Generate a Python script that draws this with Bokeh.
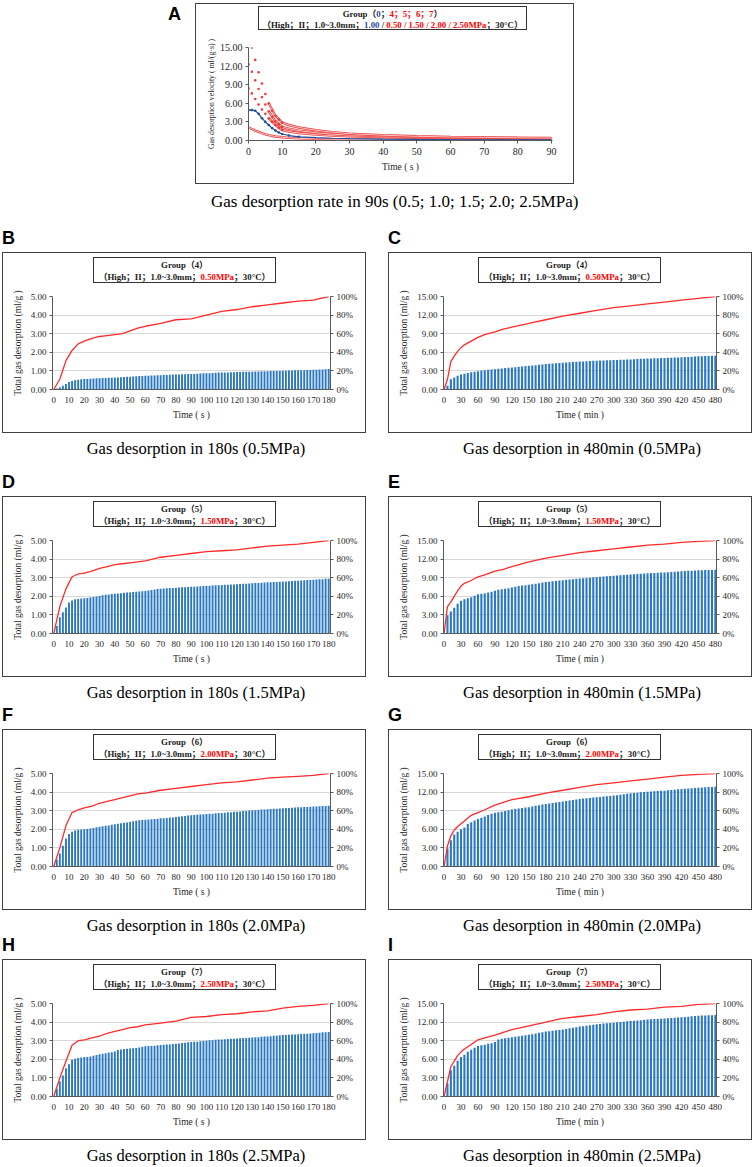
from bokeh.plotting import figure
from bokeh.models import Range1d, LinearAxis, FixedTicker, PrintfTickFormatter, Div, Spacer
from bokeh.layouts import column, row
from bokeh.embed import file_html
from bokeh.resources import INLINE

# ---------------- data ----------------
T180 = list(range(2, 181, 2))      # bar times, s
T480 = list(range(6, 481, 6))      # bar times, min
LX180 = [0, 4, 8, 12, 16, 20, 25, 30, 35, 40, 45, 50, 55, 60, 70, 80, 90, 100, 110, 120, 130, 140, 150, 160, 170, 180]
LX480 = [0, 6, 12, 18, 24, 30, 36, 48, 60, 72, 90, 105, 120, 150, 180, 210, 240, 270, 300, 330, 360, 390, 420, 450, 480]

BARS_B = [0.05, 0.12, 0.20, 0.30, 0.40, 0.46, 0.50, 0.53, 0.55, 0.56,
          0.57, 0.58, 0.59, 0.60, 0.61, 0.62, 0.62, 0.63, 0.63, 0.64,
          0.65, 0.66, 0.67, 0.68, 0.69, 0.70, 0.71, 0.72, 0.73, 0.74,
          0.74, 0.75, 0.75, 0.76, 0.77, 0.78, 0.78, 0.79, 0.80, 0.81,
          0.81, 0.82, 0.82, 0.83, 0.83, 0.84, 0.85, 0.86, 0.87, 0.87,
          0.88, 0.89, 0.90, 0.91, 0.91, 0.92, 0.92, 0.93, 0.93, 0.94,
          0.94, 0.95, 0.95, 0.96, 0.96, 0.97, 0.97, 0.98, 0.98, 0.98,
          0.99, 0.99, 1.00, 1.00, 1.01, 1.01, 1.02, 1.02, 1.03, 1.03,
          1.04, 1.04, 1.05, 1.05, 1.06, 1.06, 1.07, 1.08, 1.09, 1.10]
LINE_B = [0, 11, 31, 42, 49, 52, 55, 57, 58, 59, 60, 63, 66, 68, 71, 75, 76, 80, 84, 86, 89, 91, 93, 95, 96, 100]

BARS_D = [0.40, 0.88, 1.14, 1.40, 1.66, 1.77, 1.84, 1.86, 1.88, 1.89,
          1.91, 1.93, 1.96, 1.99, 2.02, 2.05, 2.08, 2.10, 2.12, 2.14,
          2.15, 2.17, 2.19, 2.20, 2.21, 2.23, 2.24, 2.26, 2.27, 2.29,
          2.31, 2.34, 2.37, 2.39, 2.41, 2.42, 2.43, 2.44, 2.45, 2.46,
          2.47, 2.48, 2.49, 2.50, 2.51, 2.52, 2.53, 2.54, 2.55, 2.56,
          2.57, 2.58, 2.59, 2.60, 2.61, 2.62, 2.62, 2.63, 2.64, 2.65,
          2.66, 2.67, 2.68, 2.69, 2.70, 2.71, 2.72, 2.73, 2.74, 2.75,
          2.76, 2.77, 2.77, 2.78, 2.79, 2.80, 2.81, 2.82, 2.83, 2.84,
          2.85, 2.86, 2.87, 2.88, 2.89, 2.90, 2.91, 2.92, 2.94, 2.95]
LINE_D = [0, 29, 48, 61, 64, 65, 67, 70, 72, 74, 75, 76, 77, 78, 82, 84, 86, 88, 89, 90, 92, 94, 95, 96, 98, 100]

BARS_F = [0.38, 0.70, 1.12, 1.50, 1.75, 1.87, 1.94, 1.97, 1.99, 2.00,
          2.02, 2.04, 2.07, 2.11, 2.14, 2.17, 2.19, 2.21, 2.24, 2.27,
          2.30, 2.32, 2.35, 2.37, 2.40, 2.43, 2.46, 2.48, 2.50, 2.52,
          2.53, 2.54, 2.56, 2.57, 2.59, 2.60, 2.61, 2.63, 2.64, 2.66,
          2.68, 2.70, 2.72, 2.74, 2.76, 2.77, 2.78, 2.80, 2.81, 2.82,
          2.83, 2.84, 2.86, 2.87, 2.88, 2.89, 2.91, 2.92, 2.94, 2.95,
          2.96, 2.98, 2.99, 3.01, 3.02, 3.03, 3.04, 3.06, 3.07, 3.08,
          3.09, 3.10, 3.11, 3.12, 3.13, 3.14, 3.15, 3.16, 3.17, 3.18,
          3.19, 3.20, 3.20, 3.21, 3.22, 3.23, 3.24, 3.25, 3.25, 3.26]
LINE_F = [0, 20, 44, 58, 61, 63, 65, 68, 70, 72, 74, 76, 78, 79, 82, 84, 86, 88, 90, 91, 93, 95, 96, 97, 98, 100]

BARS_H = [0.42, 0.80, 1.13, 1.52, 1.74, 1.97, 2.03, 2.07, 2.10, 2.12,
          2.13, 2.15, 2.19, 2.23, 2.27, 2.30, 2.33, 2.36, 2.38, 2.42,
          2.50, 2.53, 2.55, 2.57, 2.58, 2.59, 2.61, 2.64, 2.68, 2.70,
          2.71, 2.72, 2.73, 2.75, 2.77, 2.78, 2.79, 2.80, 2.82, 2.83,
          2.85, 2.87, 2.89, 2.91, 2.93, 2.94, 2.95, 2.97, 2.99, 3.00,
          3.02, 3.03, 3.05, 3.06, 3.07, 3.08, 3.09, 3.10, 3.11, 3.12,
          3.13, 3.14, 3.15, 3.16, 3.17, 3.18, 3.19, 3.21, 3.22, 3.23,
          3.24, 3.26, 3.27, 3.29, 3.30, 3.31, 3.32, 3.33, 3.34, 3.35,
          3.36, 3.37, 3.38, 3.39, 3.40, 3.42, 3.43, 3.45, 3.46, 3.47]
LINE_H = [0, 20, 38, 55, 60, 61, 63, 65, 68, 70, 72, 74, 75, 77, 79, 81, 85, 86, 88, 89, 91, 92, 95, 97, 98, 100]

BARS_C = [0.60, 1.65, 1.95, 2.20, 2.40, 2.55, 2.65, 2.78, 2.88, 2.95,
          3.05, 3.12, 3.18, 3.22, 3.28, 3.34, 3.40, 3.45, 3.50, 3.55,
          3.60, 3.65, 3.70, 3.78, 3.84, 3.88, 3.93, 3.98, 4.04, 4.10,
          4.14, 4.18, 4.22, 4.26, 4.30, 4.34, 4.38, 4.42, 4.46, 4.50,
          4.53, 4.56, 4.59, 4.62, 4.65, 4.67, 4.69, 4.71, 4.73, 4.75,
          4.77, 4.79, 4.81, 4.83, 4.85, 4.88, 4.91, 4.94, 4.97, 5.00,
          5.02, 5.04, 5.06, 5.08, 5.10, 5.12, 5.14, 5.16, 5.18, 5.20,
          5.23, 5.26, 5.29, 5.32, 5.35, 5.37, 5.39, 5.41, 5.43, 5.45]
LINE_C = [0, 11, 30, 36, 41, 45, 48, 52, 56, 59, 62, 65, 67, 71, 75, 79, 82, 85, 88, 90, 92, 94, 96, 98, 100]

BARS_E = [2.93, 3.56, 4.15, 4.79, 5.27, 5.53, 5.69, 5.85, 6.10, 6.33,
          6.42, 6.50, 6.60, 6.75, 6.90, 7.05, 7.15, 7.22, 7.30, 7.40,
          7.55, 7.65, 7.75, 7.80, 7.87, 7.95, 8.03, 8.12, 8.21, 8.30,
          8.36, 8.42, 8.48, 8.54, 8.60, 8.66, 8.71, 8.77, 8.83, 8.88,
          8.92, 8.96, 9.01, 9.06, 9.10, 9.14, 9.18, 9.22, 9.26, 9.30,
          9.34, 9.39, 9.43, 9.48, 9.52, 9.56, 9.60, 9.64, 9.69, 9.73,
          9.75, 9.77, 9.79, 9.82, 9.84, 9.88, 9.92, 9.97, 10.01, 10.05,
          10.08, 10.11, 10.14, 10.17, 10.20, 10.22, 10.23, 10.24, 10.26, 10.27]
LINE_E = [0, 29, 34, 40, 46, 51, 54, 57, 61, 63, 67, 69, 72, 77, 81, 84, 87, 89, 91, 93, 95, 96, 98, 99, 100]

BARS_G = [2.90, 4.25, 5.15, 5.60, 6.00, 6.28, 6.85, 7.15, 7.40, 7.65,
          7.85, 8.05, 8.30, 8.50, 8.65, 8.75, 8.85, 8.95, 9.08, 9.20,
          9.27, 9.34, 9.42, 9.50, 9.57, 9.68, 9.78, 9.88, 9.98, 10.08,
          10.16, 10.24, 10.32, 10.40, 10.48, 10.56, 10.65, 10.73, 10.82, 10.90,
          10.95, 11.01, 11.06, 11.12, 11.17, 11.22, 11.28, 11.33, 11.39, 11.44,
          11.51, 11.58, 11.66, 11.73, 11.80, 11.85, 11.91, 11.96, 12.02, 12.07,
          12.10, 12.13, 12.17, 12.20, 12.23, 12.28, 12.34, 12.39, 12.45, 12.50,
          12.54, 12.58, 12.63, 12.67, 12.71, 12.74, 12.77, 12.81, 12.84, 12.87]
LINE_G = [0, 22, 33, 39, 43, 46, 49, 55, 58, 61, 66, 69, 72, 75, 79, 82, 85, 88, 90, 92, 94, 96, 98, 99, 100]

BARS_I = [2.10, 4.25, 4.95, 5.75, 6.38, 6.75, 7.20, 7.55, 7.87, 8.14,
          8.25, 8.35, 8.50, 8.60, 8.78, 9.20, 9.30, 9.38, 9.48, 9.57,
          9.65, 9.73, 9.80, 9.88, 9.95, 10.06, 10.16, 10.27, 10.38, 10.48,
          10.54, 10.61, 10.67, 10.74, 10.80, 10.90, 10.99, 11.09, 11.18, 11.28,
          11.35, 11.43, 11.50, 11.58, 11.65, 11.70, 11.76, 11.81, 11.86, 11.91,
          11.96, 12.02, 12.07, 12.13, 12.18, 12.22, 12.27, 12.31, 12.36, 12.40,
          12.44, 12.48, 12.52, 12.56, 12.60, 12.63, 12.67, 12.70, 12.74, 12.77,
          12.82, 12.87, 12.93, 12.98, 13.03, 13.05, 13.07, 13.09, 13.12, 13.14]
LINE_I = [0, 16, 32, 38, 44, 48, 51, 56, 61, 63, 66, 69, 72, 76, 80, 84, 86, 88, 91, 93, 94, 96, 97, 99, 100]

# Panel A: desorption velocity, ml/(g*s)
A_T25 = [1, 2, 3, 4, 5, 6, 7, 8, 9, 10]
A_V25 = [15.0, 13.0, 11.0, 9.2, 7.5, 6.0, 4.8, 4.0, 3.4, 2.9]
A_T20 = [0, 1, 2, 3, 4, 5, 6, 7, 8, 9, 10]
A_V20 = [12.3, 11.1, 9.7, 8.3, 7.0, 5.8, 4.7, 3.8, 3.1, 2.6, 2.2]
A_T15 = [0, 1, 2, 3, 4, 5, 6, 7, 8, 9, 10]
A_V15 = [8.4, 7.6, 6.7, 5.8, 5.0, 4.3, 3.6, 3.0, 2.5, 2.0, 1.7]
A_LT = [6, 8, 10, 12, 15, 20, 25, 30, 40, 50, 60, 70, 80, 90]
A_L25 = [6.0, 4.0, 2.9, 2.5, 2.1, 1.65, 1.35, 1.1, 0.85, 0.68, 0.57, 0.5, 0.44, 0.4]
A_L20 = [4.7, 3.1, 2.2, 1.9, 1.6, 1.25, 1.02, 0.88, 0.7, 0.58, 0.5, 0.44, 0.4, 0.36]
A_L15 = [3.6, 2.5, 1.7, 1.45, 1.2, 0.95, 0.8, 0.68, 0.55, 0.47, 0.41, 0.37, 0.34, 0.31]
A_T10 = [0, 1, 2, 3, 4, 5, 6, 7, 8, 9, 10, 12, 15, 20, 25, 30, 40, 50, 60, 70, 80, 90]
A_V10 = [4.9, 4.9, 4.8, 4.3, 3.6, 3.0, 2.5, 2.0, 1.6, 1.3, 1.05, 0.8, 0.6, 0.45, 0.36, 0.3, 0.22, 0.17, 0.14, 0.12, 0.1, 0.09]
A_T05 = [0, 1, 2, 3, 4, 5, 6, 8, 10, 12, 15, 20, 25, 30, 40, 50, 60, 70, 80, 90]
A_V05 = [2.1, 1.85, 1.6, 1.38, 1.18, 1.0, 0.86, 0.65, 0.52, 0.43, 0.34, 0.26, 0.21, 0.18, 0.14, 0.12, 0.1, 0.09, 0.08, 0.08]

# ---------------- styling ----------------
FS = "'Liberation Serif','Noto Sans CJK SC',serif"
SERIF = "Liberation Serif"
RED_T = "#ff0000"
BLUE_T = "#1f4e99"
BAR = "#2b78c2"
LRED = "#ff2a2a"
ARED = "#ee3b3b"
ABLUE = "#1f4e9a"
AX = "#595959"


def style_axis(ax, tsize="9px", lsize="9.5px"):
    ax.major_label_text_font = SERIF
    ax.major_label_text_font_size = tsize
    ax.major_label_text_color = "#262626"
    ax.axis_label_text_font = SERIF
    ax.axis_label_text_font_size = lsize
    ax.axis_label_text_font_style = "normal"
    ax.axis_label_text_color = "#262626"
    ax.axis_line_color = AX
    ax.major_tick_line_color = AX
    ax.minor_tick_line_color = None
    ax.major_tick_in = 0


def legend_div(inner_w, left, top, bw, bh, lh, l1, l2, h=36):
    html = (f'<div style="padding:{top}px 0 0 {left}px;margin:0;">'
            f'<div style="box-sizing:border-box;width:{bw}px;height:{bh}px;border:1px solid #333;'
            f'padding-top:2px;font-family:{FS};font-weight:bold;font-size:8.8px;line-height:{lh}px;'
            f'text-align:center;white-space:nowrap;color:#1a1a1a;">{l1}<br>{l2}</div></div>')
    return Div(text=html, width=inner_w, height=h, margin=0)


def letter_div(ch, w, h, pad_top):
    html = (f'<div style="font-family:\'Liberation Sans\',Arial,sans-serif;font-weight:bold;'
            f'font-size:18px;line-height:18px;padding-top:{pad_top}px;color:#000;">{ch}</div>')
    return Div(text=html, width=w, height=h, margin=0)


def caption_div(txt, w, h, pad_top, pad_left, fs):
    html = (f'<div style="box-sizing:border-box;width:{w}px;padding-top:{pad_top}px;padding-left:{pad_left}px;'
            f'text-align:center;font-family:{FS};font-size:{fs}px;line-height:25px;white-space:nowrap;color:#000;">{txt}</div>')
    return Div(text=html, width=w, height=h, margin=0)


def chart(kind, bars, pct):
    if kind == "s":
        xs, lx, xr, ticks, bw, xl, ymax, yt, fl = (T180, LX180, (-0.8, 181.2), list(range(0, 181, 10)), 1.25,
                                                   "Time ( s )", 5, [0, 1, 2, 3, 4, 5], 49)
    else:
        xs, lx, xr, ticks, bw, xl, ymax, yt, fl = (T480, LX480, (-1, 482), list(range(0, 481, 30)), 3.7,
                                                   "Time ( min )", 15, [0, 3, 6, 9, 12, 15], 54)
    p = figure(width=362, height=143, x_range=Range1d(*xr), y_range=Range1d(0, ymax),
               output_backend="svg", toolbar_location=None,
               min_border_left=fl, min_border_right=35, min_border_top=7, min_border_bottom=43)
    p.extra_y_ranges = {"pct": Range1d(0, 100)}
    p.outline_line_color = None
    p.background_fill_color = "white"
    p.border_fill_color = "white"
    p.xgrid.visible = False
    p.ygrid.ticker = FixedTicker(ticks=yt)
    p.ygrid.grid_line_color = "#d9d9d9"
    p.vbar(x=xs, top=bars, width=bw, bottom=0, fill_color=BAR, line_color=None)
    p.line(lx, pct, y_range_name="pct", line_color=LRED, line_width=1.3)

    ya = p.yaxis[0]
    style_axis(ya)
    ya.ticker = FixedTicker(ticks=yt)
    ya.formatter = PrintfTickFormatter(format="%.2f")
    ya.axis_label = "Total gas desorption (ml/g )"
    ya.major_tick_out = 3
    ya.major_label_standoff = 3
    ya.axis_label_standoff = 5

    xa = p.xaxis[0]
    style_axis(xa)
    xa.ticker = FixedTicker(ticks=ticks)
    xa.formatter = PrintfTickFormatter(format="%d")
    xa.axis_label = xl
    xa.major_tick_out = 0
    xa.major_label_standoff = 7
    xa.axis_label_standoff = 4

    ra = LinearAxis(y_range_name="pct", ticker=FixedTicker(ticks=[0, 20, 40, 60, 80, 100]),
                    formatter=PrintfTickFormatter(format="%d%%"))
    style_axis(ra)
    ra.major_tick_out = 3
    ra.major_label_standoff = 3
    p.add_layout(ra, "right")
    return p


def panel(letter, kind, bars, pct, group, mpa, cap, cap_h):
    leg_left = 90 if kind == "s" else 89
    l1 = f"Group（{group}）"
    l2 = f"（High；II；1.0~3.0mm；<span style='color:{RED_T}'>{mpa}MPa</span>；30°C）"
    leg = legend_div(362, leg_left, 4, 183, 26, 11.5, l1, l2)
    fig = chart(kind, bars, pct)
    box = column(leg, fig, spacing=0, margin=0, styles={"border": "1px solid #404040"})
    return column(letter_div(letter, 364, 27, 4), box,
                  caption_div(cap, 364, cap_h, 3, 24, 16.5), spacing=0, margin=0)


# ---------------- panel A ----------------
def dline(p, x, y, color):
    p.line(x, y, line_color=color, line_width=2.4)
    p.line(x, y, line_color="white", line_width=0.7)


pa = figure(width=377, height=149, x_range=Range1d(0, 90.3), y_range=Range1d(0, 15),
            output_backend="svg", toolbar_location=None,
            min_border_left=52, min_border_right=21, min_border_top=13, min_border_bottom=43)
pa.grid.visible = False
pa.outline_line_color = None
dline(pa, A_T05, A_V05, ARED)
dline(pa, A_LT, A_L15, ARED)
dline(pa, A_LT, A_L20, ARED)
dline(pa, A_LT, A_L25, ARED)
pa.line(A_T10, A_V10, line_color=ABLUE, line_width=1.2)
pa.scatter(A_T10[:13], A_V10[:13], marker="circle", size=2.6, fill_color=ABLUE, line_color=None)
for tt, vv in ((A_T15, A_V15), (A_T20, A_V20), (A_T25, A_V25)):
    pa.scatter(tt, vv, marker="circle", size=2.6, fill_color=ARED, line_color=None)

ya = pa.yaxis[0]
style_axis(ya, "10px", "7.8px")
ya.ticker = FixedTicker(ticks=[0, 3, 6, 9, 12, 15])
ya.formatter = PrintfTickFormatter(format="%.2f")
ya.axis_label = "Gas desorption velocity ( ml/(g·s) )"
ya.major_tick_out = 3
ya.major_label_standoff = 3
ya.axis_label_standoff = 1
xa = pa.xaxis[0]
style_axis(xa, "10px", "9.5px")
xa.ticker = FixedTicker(ticks=list(range(0, 91, 10)))
xa.formatter = PrintfTickFormatter(format="%d")
xa.axis_label = "Time ( s )"
xa.major_tick_out = 3
xa.major_label_standoff = 4
xa.axis_label_standoff = 4

a_l1 = (f"Group（<span style='color:{BLUE_T}'>0</span>；"
        f"<span style='color:{RED_T}'>4；5；6；7</span>）")
a_l2 = (f"（High；II；1.0~3.0mm；<span style='color:{BLUE_T}'>1.00</span> / "
        f"<span style='color:{RED_T}'>0.50 / 1.50 / 2.00 / 2.50MPa</span>；30°C）")
leg_a = legend_div(377, 62, 2, 269, 24, 10.5, a_l1, a_l2, h=30)
box_a = column(leg_a, pa, spacing=0, margin=0, styles={"border": "1px solid #404040"})
col_a = column(box_a, caption_div("Gas desorption rate in 90s (0.5; 1.0; 1.5; 2.0; 2.5MPa)", 379, 41, 5, 16, 17),
               spacing=0, margin=0)
row_a = row(Spacer(width=166, height=10), letter_div("A", 27, 30, 2), col_a, spacing=0, margin=0)

# ---------------- grid of panels ----------------
def prow(left, right):
    return row(left, Spacer(width=22, height=10), right, spacing=0, margin=0)


row_b = prow(panel("B", "s", BARS_B, LINE_B, 4, "0.50", "Gas desorption in 180s (0.5MPa)", 36),
             panel("C", "m", BARS_C, LINE_C, 4, "0.50", "Gas desorption in 480min (0.5MPa)", 36))
row_d = prow(panel("D", "s", BARS_D, LINE_D, 5, "1.50", "Gas desorption in 180s (1.5MPa)", 25),
             panel("E", "m", BARS_E, LINE_E, 5, "1.50", "Gas desorption in 480min (1.5MPa)", 25))
row_f = prow(panel("F", "s", BARS_F, LINE_F, 6, "2.00", "Gas desorption in 180s (2.0MPa)", 22),
             panel("G", "m", BARS_G, LINE_G, 6, "2.00", "Gas desorption in 480min (2.0MPa)", 22))
row_h = prow(panel("H", "s", BARS_H, LINE_H, 7, "2.50", "Gas desorption in 180s (2.5MPa)", 26),
             panel("I", "m", BARS_I, LINE_I, 7, "2.50", "Gas desorption in 480min (2.5MPa)", 26))

root = column(row_a, row_b, row_d, row_f, row_h, spacing=0, margin=(3, -10, -10, 2))

open("out.html", "w").write(file_html(root, INLINE))
